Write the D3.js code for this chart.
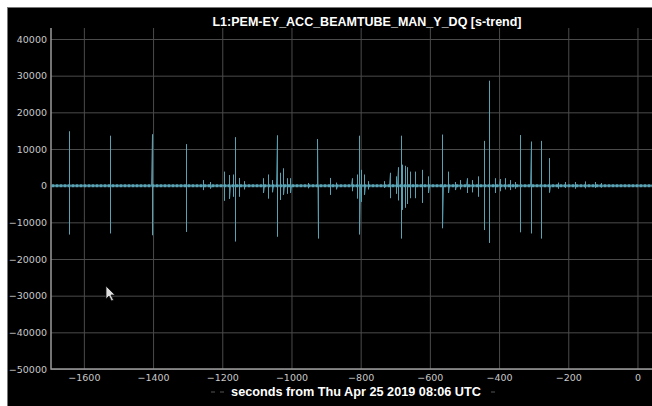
<!DOCTYPE html>
<html>
<head>
<meta charset="utf-8">
<script src="https://cdn.jsdelivr.net/npm/d3@7"></script>
<style>
	html, body { margin: 0; padding: 0; background: #fff; }
	svg { display: block; }
</style>
</head>
<body>
<div id="chart"></div>
<script>
var titleText = 'L1:PEM-EY_ACC_BEAMTUBE_MAN_Y_DQ [s-trend]';
var xLabelText = 'seconds from Thu Apr 25 2019 08:06 UTC';

var xTicks = [-1600, -1400, -1200, -1000, -800, -600, -400, -200, 0];
var yTicks = [40000, 30000, 20000, 10000, 0, -10000, -20000, -30000, -40000, -50000];

// s-trend records: time (s), max and min of each second
var eventTimes = [-1643, -1525, -1404, -1305, -1256, -1235, -1195, -1180, -1169, -1163, -1152, -1137,
	-1082, -1068, -1056, -1043, -1033, -1024, -1013, -1004, -952, -925, -889, -871,
	-826, -811, -804, -799, -790, -779, -733, -716, -698, -693, -684, -681, -672, -666, -658, -643, -623, -605,
	-564, -547, -527, -513, -494, -478, -461, -444, -429, -412, -398, -383, -369, -354,
	-340, -309, -279, -255, -230, -210, -181, -152, -123, -105];
var eventMax = [14800, 13600, 14000, 11300, 1500, 1000, 3800, 2900, 3000, 13200, 2100, 1200,
	2000, 3000, 1500, 13700, 3500, 4700, 2000, 2000, 700, 12700, 2100, 800,
	2000, 3000, 13600, 4300, 3000, 1200, 1200, 3500, 2500, 5000, 13600, 5700, 5400, 5000, 3800, 3800, 4300, 2500,
	13900, 3800, 1000, 1500, 2000, 1500, 2500, 12200, 28600, 2000, 1800, 2000, 1500, 1000,
	13800, 12000, 12200, 7500, 800, 1000, 1000, 1100, 1000, 700];
var eventMin = [-13300, -13000, -13500, -12600, -1200, -800, -4100, -3600, -3000, -15200, -3000, -1000,
	-2000, -3500, -1800, -13900, -3900, -2500, -2200, -2000, -700, -14400, -2500, -1000,
	-1500, -3500, -13300, -4400, -2500, -1000, -600, -3400, -2200, -4000, -14400, -6600, -6000, -5000, -3400, -3400, -4700, -2000,
	-11600, -2000, -1200, -1000, -2000, -1800, -3000, -12100, -15600, -2000, -1500, -1000, -1200, -800,
	-12700, -13000, -14400, -1900, -800, -600, -800, -700, -600, -500];

var width = 652, height = 406;
var margin = { left: 51, right: 0, top: 28, bottom: 37 };
var traceColor = '#5aa6b8';

var svg = d3.select('#chart')
	.append('svg')
	.attr('width', width)
	.attr('height', height);

// panel
svg.append('rect')
	.attr('x', 7.5).attr('y', 7.5)
	.attr('width', width).attr('height', height)
	.attr('fill', '#000')
	.attr('stroke', '#777');

var x = d3.scaleLinear()
	.domain([-1695, 42])
	.range([margin.left, width - margin.right]);
var y = d3.scaleLinear()
	.domain([-50000, 43000])
	.range([height - margin.bottom, margin.top]);

// grid + axes
var yAxis = svg.append('g')
	.attr('transform', 'translate(' + margin.left + ',0)')
	.call(d3.axisLeft(y).tickValues(yTicks).tickSize(-(width - margin.left)).tickPadding(4).tickFormat(d3.format('d')));
var xAxis = svg.append('g')
	.attr('transform', 'translate(0,' + (height - margin.bottom) + ')')
	.call(d3.axisBottom(x).tickValues(xTicks).tickSize(-(height - margin.bottom - margin.top)).tickPadding(5).tickFormat(d3.format('d')));

[xAxis, yAxis].forEach(function(ax) {
	ax.select('.domain').remove();
	ax.selectAll('.tick line').attr('stroke', '#4b4b4b').attr('stroke-width', 1);
	ax.selectAll('.tick text')
		.attr('fill', '#c8c8c8')
		.style('font-family', 'DejaVu Sans')
		.style('font-size', '9.5px');
});

svg.append('path')
	.attr('d', 'M' + margin.left + ',' + margin.top + 'V' + (height - margin.bottom) + 'H' + width)
	.attr('fill', 'none')
	.attr('stroke', '#9a9a9a')
	.attr('stroke-width', 1.5);

// trace
var trace = [{ t: x.domain()[0], v: 0 }];
eventTimes.forEach(function(t, i) {
	trace.push({ t: t - 0.8, v: 0 });
	trace.push({ t: t, v: eventMax[i] });
	trace.push({ t: t + 0.4, v: eventMin[i] });
	trace.push({ t: t + 1.2, v: 0 });
});
trace.push({ t: x.domain()[1], v: 0 });

// snap to pixel centres so the spikes stay crisp
var line = d3.line()
	.x(function(d) { return Math.round(x(d.t)) + 0.5; })
	.y(function(d) { return y(d.v); });

var plot = svg.append('g');

plot.append('path')
	.datum([{ t: x.domain()[0], v: 0 }, { t: x.domain()[1], v: 0 }])
	.attr('d', line)
	.attr('fill', 'none')
	.attr('stroke', traceColor)
	.attr('stroke-width', 3)
	.attr('stroke-dasharray', '3,1');

plot.append('path')
	.datum(trace)
	.attr('d', line)
	.attr('fill', 'none')
	.attr('stroke', traceColor)
	.attr('stroke-opacity', 0.85)
	.attr('stroke-width', 1);

// texts
svg.append('text')
	.attr('x', 367).attr('y', 26)
	.attr('text-anchor', 'middle')
	.attr('fill', '#fff')
	.style('font-family', 'Liberation Sans, Arial, sans-serif')
	.style('font-weight', 'bold')
	.style('font-size', '12.5px')
	.text(titleText);

svg.append('text')
	.attr('x', 356).attr('y', 396)
	.attr('text-anchor', 'middle')
	.attr('fill', '#fff')
	.style('font-family', 'Liberation Sans, Arial, sans-serif')
	.style('font-weight', 'bold')
	.style('font-size', '12.7px')
	.text(xLabelText);

// faint legend dashes around the caption
[[211, 215], [220, 224], [491, 495]].forEach(function(s) {
	svg.append('line')
		.attr('x1', s[0]).attr('x2', s[1])
		.attr('y1', 392).attr('y2', 392)
		.attr('stroke', '#555');
});

// mouse pointer left in the screenshot
svg.append('path')
	.attr('transform', 'translate(106,286)')
	.attr('d', 'M0,0 L0,13 L3,10 L5.5,15 L7.5,14 L5,9 L9,9 Z')
	.attr('fill', '#ddd')
	.attr('stroke', '#111')
	.attr('stroke-width', 0.8);
</script>
</body>
</html>
